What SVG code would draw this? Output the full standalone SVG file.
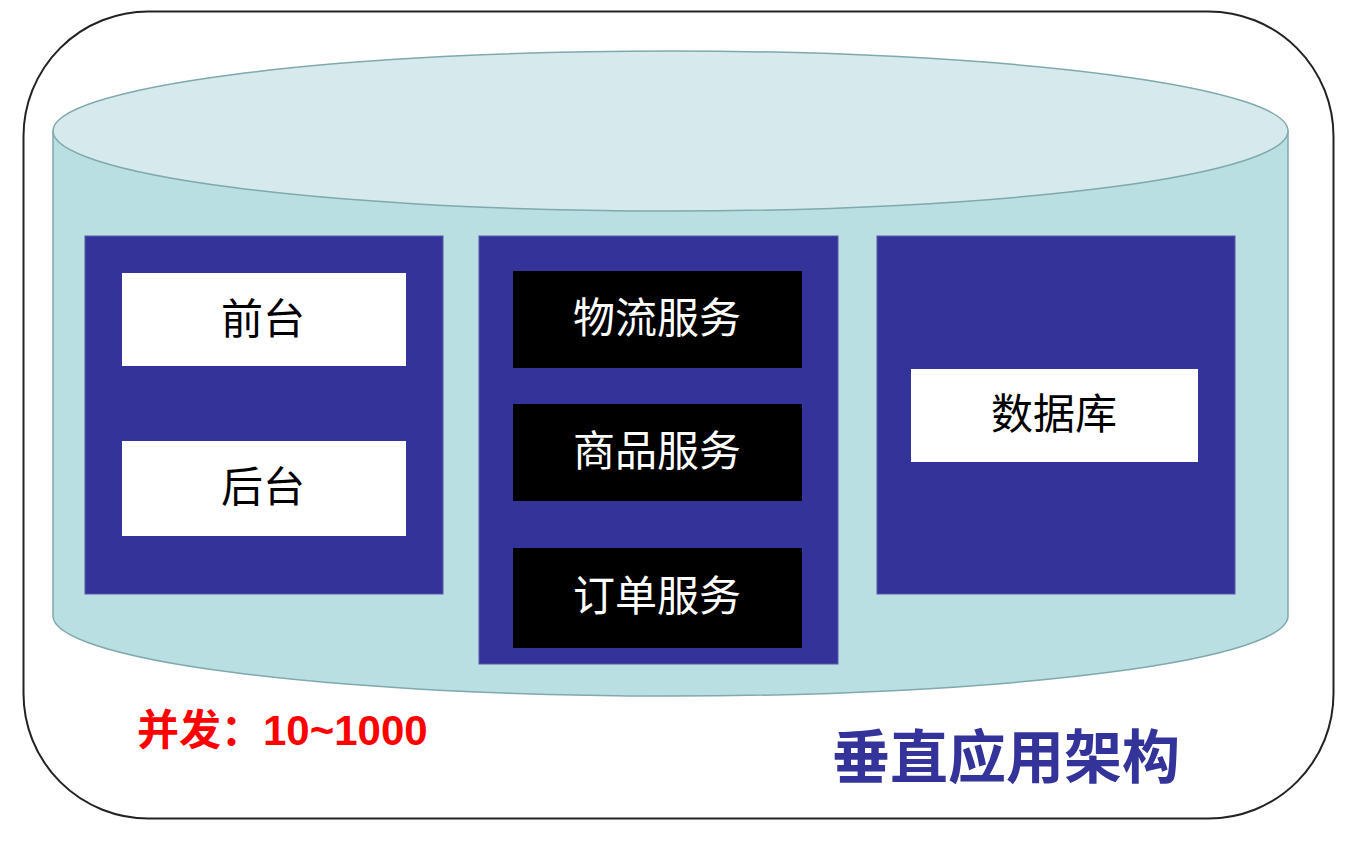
<svg xmlns="http://www.w3.org/2000/svg" width="1359" height="843" viewBox="0 0 1359 843">
<style>
.panel{fill:#333399;stroke:#5a5aa8;stroke-width:1}
.wbox{fill:#ffffff}
.bbox{fill:#000000}
.t{font-family:"Liberation Sans","Noto Sans CJK SC",sans-serif;font-size:42px;text-anchor:middle;dominant-baseline:central}
.tb{fill:#000000}
.tw{fill:#ffffff}
</style>
<rect width="1359" height="843" fill="#ffffff"/>
<g id="frame">
<rect x="23.5" y="11.5" width="1310" height="807" rx="125" ry="125" fill="#ffffff" stroke="#222222" stroke-width="2"/>
</g>
<g id="cylinder">
<path d="M53,131 L53,616 A617.5,80 0 0 0 1288,616 L1288,131 Z" fill="#b9dfe2" stroke="#7fa9ac" stroke-width="1.5"/>
<ellipse cx="670.5" cy="131" rx="617.5" ry="80" fill="#d6eaed" stroke="#7fa9ac" stroke-width="1.5"/>
</g>
<g id="left-panel">
<rect class="panel" x="85" y="236" width="358" height="358"/>
</g>
<g id="front">
<rect class="wbox" x="122" y="273" width="284" height="93"/>
<text class="t tb" x="263" y="319">前台</text>
</g>
<g id="back">
<rect class="wbox" x="122" y="441" width="284" height="95"/>
<text class="t tb" x="263" y="487">后台</text>
</g>
<g id="middle-panel">
<rect class="panel" x="479" y="236" width="359" height="428"/>
</g>
<g id="logistics">
<rect class="bbox" x="513" y="271" width="289" height="97"/>
<text class="t tw" x="657" y="318">物流服务</text>
</g>
<g id="goods">
<rect class="bbox" x="513" y="404" width="289" height="97"/>
<text class="t tw" x="657" y="451">商品服务</text>
</g>
<g id="order">
<rect class="bbox" x="513" y="548" width="289" height="100"/>
<text class="t tw" x="657" y="596">订单服务</text>
</g>
<g id="right-panel">
<rect class="panel" x="877" y="236" width="358" height="358"/>
</g>
<g id="database">
<rect class="wbox" x="911" y="369" width="287" height="93"/>
<text class="t tb" x="1054" y="414">数据库</text>
</g>
<g id="connectors"></g>
<g id="labels">
<text x="137" y="745" font-family="'Liberation Sans','Noto Sans CJK SC',sans-serif" font-size="42" font-weight="bold" fill="#ff0000">并发：10~1000</text>
<text x="832" y="778" font-family="'Liberation Sans','Noto Sans CJK SC',sans-serif" font-size="58" font-weight="bold" fill="#333399">垂直应用架构</text>
</g>
</svg>
